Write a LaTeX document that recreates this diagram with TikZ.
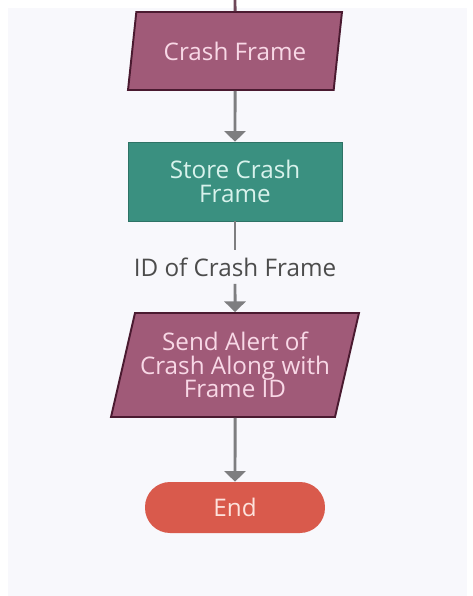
\documentclass[tikz,border=0pt]{standalone}
\usepackage{fontspec}
\setmainfont{Open Sans}
\usetikzlibrary{shapes.geometric,arrows.meta}

\definecolor{panelbg}{HTML}{F8F8FC}
\definecolor{iofill}{HTML}{A05A78}
\definecolor{iodraw}{HTML}{4A1A30}
\definecolor{iotext}{HTML}{F8D8E6}
\definecolor{procfill}{HTML}{3A9080}
\definecolor{proctext}{HTML}{D8F2EC}
\definecolor{endfill}{HTML}{D95A4C}
\definecolor{endtext}{HTML}{FDE2DC}
\definecolor{flowgrey}{HTML}{7E7E80}

\begin{document}
\begin{tikzpicture}[
		x=0.02cm, y=-0.02cm,
		every node/.style={font=\fontsize{13.8}{13.4}\selectfont, align=center},
		iobox/.style={trapezium, trapezium stretches body, fill=iofill, draw=iodraw,
			line width=1.1pt, text=iotext, inner sep=0pt},
		procbox/.style={rectangle, fill=procfill, draw=procfill!80!black, line width=0.4pt,
			text=proctext, minimum width=4.28cm, minimum height=1.58cm, inner sep=0pt},
		endbox/.style={rectangle, rounded corners=0.5cm, fill=endfill, text=endtext,
			minimum width=3.6cm, minimum height=1.02cm, inner sep=0pt},
		flow/.style={draw=flowgrey, line width=1.7pt},
		flowarrow/.style={flow, -{Triangle[width=12pt,length=6pt]}}
	]

		% background
		\useasboundingbox (0,0) rectangle (473,596);
		\fill [panelbg] (8,8) rectangle (467,596);

		% nodes
		\coordinate (top) at (235,0);
		\node [iobox, trapezium left angle=66, trapezium right angle=114,
			minimum width=4.28cm, minimum height=1.56cm] (crash) at (235,51) {Crash Frame};
		\node [procbox] (store) at (235,181.5) {Store Crash\\Frame};
		\node [text=black!70, inner sep=0pt, minimum height=0.66cm] (idlabel) at (235,267) {ID of Crash Frame};
		\node [iobox, trapezium left angle=70, trapezium right angle=110,
			minimum width=4.96cm, minimum height=2.08cm] (alert) at (235,365) {Send Alert of\\Crash Along with\\Frame ID};
		\node [endbox] (end) at (235,507.5) {End};

		% connectors
		\draw [flow, draw=iodraw!80] (top) -- (crash.north);
		\draw [flowarrow] (crash.south) -- (store.north);
		\draw [flow] (store.south) -- (idlabel.north);
		\draw [flowarrow] (idlabel.south) -- (alert.north);
		\draw [flowarrow] (alert.south) -- (end.north);

	\end{tikzpicture}
\end{document}
